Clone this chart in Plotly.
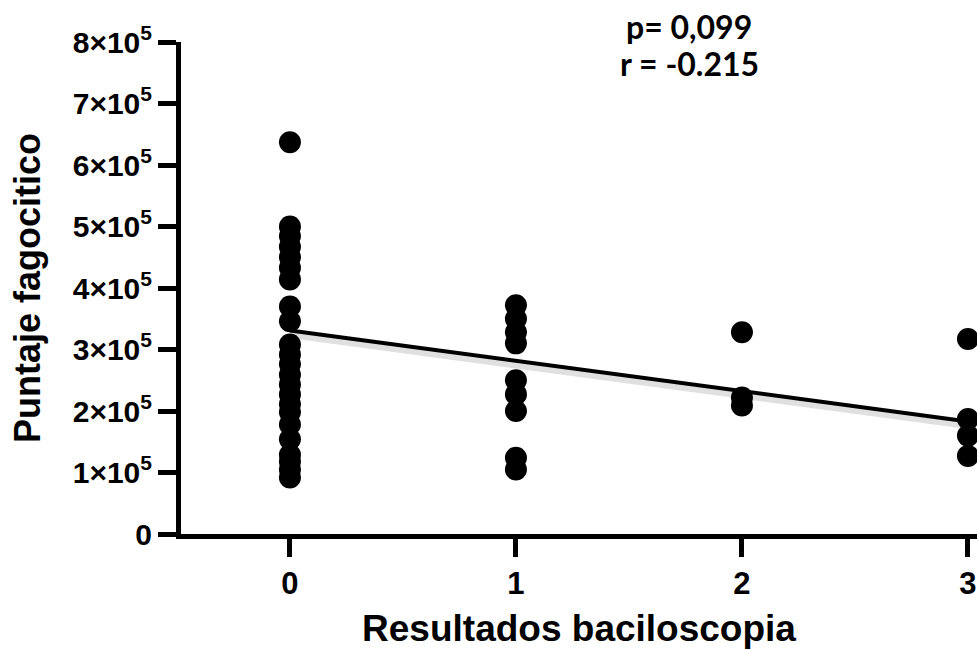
import plotly.graph_objects as go

# Data
x0_vals = [6.37e5, 5.0e5, 4.84e5, 4.67e5, 4.5e5, 4.33e5, 4.14e5, 3.70e5, 3.46e5,
           3.08e5, 2.92e5, 2.76e5, 2.59e5, 2.43e5, 2.27e5, 2.11e5, 1.98e5, 1.78e5,
           1.54e5, 1.29e5, 1.18e5, 1.05e5, 0.92e5]
x1_vals = [3.72e5, 3.50e5, 3.28e5, 3.10e5, 2.50e5, 2.27e5, 2.0e5, 1.24e5, 1.05e5]
x2_vals = [3.28e5, 2.22e5, 2.09e5]
x3_vals = [3.17e5, 1.87e5, 1.60e5, 1.27e5]

fit_x = [0, 3]
fit_y = [3.31e5, 1.83e5]

y_tickvals = [0, 1e5, 2e5, 3e5, 4e5, 5e5, 6e5, 7e5, 8e5]
y_ticktext = ["<b>0</b>"] + [f"<b>{i}×10<sup>5</sup></b>" for i in range(1, 9)]
x_tickvals = [0, 1, 2, 3]
x_ticktext = ["<b>0</b>", "<b>1</b>", "<b>2</b>", "<b>3</b>"]

xs = [0] * len(x0_vals) + [1] * len(x1_vals) + [2] * len(x2_vals) + [3] * len(x3_vals)
ys = x0_vals + x1_vals + x2_vals + x3_vals

fig = go.Figure()
# soft shadow under the regression line
fig.add_trace(go.Scatter(x=fit_x, y=[v - 0.06e5 for v in fit_y], mode="lines",
                         line=dict(color="rgba(0,0,0,0.12)", width=8),
                         hoverinfo="skip", showlegend=False))
fig.add_trace(go.Scatter(x=fit_x, y=fit_y, mode="lines",
                         line=dict(color="black", width=4), showlegend=False))
fig.add_trace(go.Scatter(x=xs, y=ys, mode="markers",
                         marker=dict(color="black", size=22), cliponaxis=False,
                         showlegend=False))

L, T, B = 181, 42, 115
PW = 977 - L
PH = 649 - T - B

fig.update_layout(
    width=977, height=649,
    margin=dict(l=L, r=0, t=T, b=B),
    plot_bgcolor="white", paper_bgcolor="white",
    xaxis=dict(range=[-0.482, 3.04], tickvals=x_tickvals, ticktext=x_ticktext,
               showgrid=False, zeroline=False, showline=True, linecolor="black",
               linewidth=5, ticks="outside", ticklen=18, tickwidth=5, tickcolor="black",
               tickfont=dict(family="Liberation Sans, Arial", size=31, color="black"),
               title=dict(text="<b>Resultados baciloscopia</b>",
                          font=dict(family="Liberation Sans, Arial", size=37, color="black"),
                          standoff=17)),
    yaxis=dict(range=[0, 8e5], tickvals=y_tickvals, ticktext=y_ticktext,
               showgrid=False, zeroline=False, showline=True, linecolor="black",
               linewidth=5, ticks="outside", ticklen=18, tickwidth=5, tickcolor="black",
               tickfont=dict(family="Liberation Sans, Arial", size=30, color="black"),
               title=dict(text="<b>Puntaje fagocitico</b>",
                          font=dict(family="Liberation Sans, Arial", size=36, color="black"),
                          standoff=23)),
    annotations=[
        dict(text="<b>p= 0,099</b>", xref="paper", yref="paper",
             x=(689 - L) / PW, y=1 + (T - 27) / PH, xanchor="center", yanchor="middle",
             showarrow=False, font=dict(family="Lato, Open Sans", size=32, color="black")),
        dict(text="<b>r = -0.215</b>", xref="paper", yref="paper",
             x=(689 - L) / PW, y=1 + (T - 63) / PH, xanchor="center", yanchor="middle",
             showarrow=False, font=dict(family="Lato, Open Sans", size=32, color="black")),
    ],
)

fig.write_html("out.html")
